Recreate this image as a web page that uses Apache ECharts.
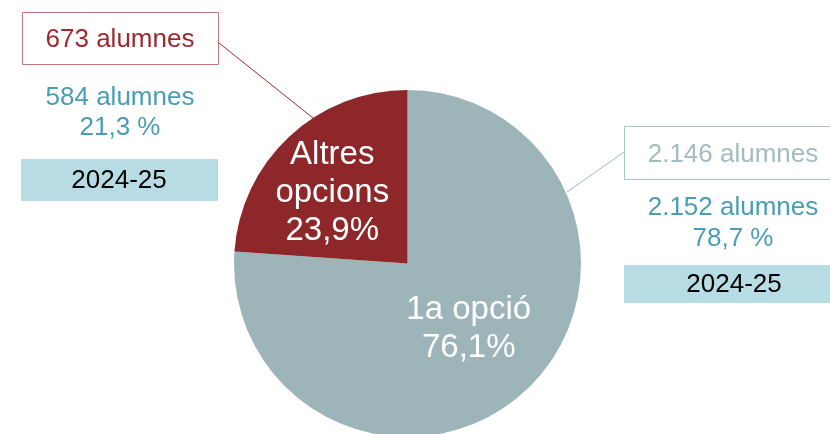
<!DOCTYPE html>
<html>
<head>
<meta charset="utf-8">
<script src="https://cdn.jsdelivr.net/npm/echarts@6/dist/echarts.min.js"></script>
<style>
  html, body { margin: 0; padding: 0; background: #fff; }
  #chart { width: 830px; height: 434px; }
</style>
</head>
<body>
<div id="chart"></div>
<script>
// slices (clockwise from 12 o'clock)
const categories = ['1a opció', 'Altres opcions'];
const sliceLabels = ['1a opció', 'Altres\nopcions'];
const shares = [76.1, 23.9];
const sliceColors = ['#9db5b9', '#8e2729'];

// annotations beside the pie
const prevCounts = ['673 alumnes', '2.146 alumnes'];
const currCounts = ['584 alumnes', '2.152 alumnes'];
const currShares = ['21,3 %', '78,7 %'];
const courseLabel = '2024-25';

const FONT = '"Liberation Sans", Arial, sans-serif';

let chart = echarts.init(document.getElementById('chart'));

function txt(x, y, text, color, size) {
  return {
    type: 'text',
    x: x,
    y: y,
    style: {
      text: text,
      fill: color,
      font: (size || 26) + 'px ' + FONT,
      textAlign: 'center',
      textVerticalAlign: 'middle'
    }
  };
}

let option = {
  animation: false,
  series: [{
    type: 'pie',
    center: [407.5, 263.5],
    radius: 173.5,
    startAngle: 90,
    clockwise: true,
    silent: true,
    label: {
      show: true,
      position: 'inside',
      color: '#fff',
      fontFamily: FONT,
      fontSize: 33,
      lineHeight: 38,
      formatter: function (p) {
        return sliceLabels[p.dataIndex] + '\n' + p.value.toFixed(1).replace('.', ',') + '%';
      }
    },
    labelLine: { show: false },
    data: categories.map(function (c, i) {
      let d = {
        name: c,
        value: shares[i],
        itemStyle: { color: sliceColors[i] }
      };
      if (i === 1) d.label = { offset: [-14, -5] };
      return d;
    })
  }],
  graphic: [
    // left side
    {
      type: 'rect',
      shape: { x: 22.5, y: 12.5, width: 196, height: 52 },
      style: { fill: '#fff', stroke: '#c4777a', lineWidth: 1 }
    },
    txt(120, 40, prevCounts[0], '#9a2a2d'),
    {
      type: 'line',
      shape: { x1: 219, y1: 43, x2: 313, y2: 118 },
      style: { stroke: '#9a2a2d', lineWidth: 1 }
    },
    txt(120, 98, currCounts[0], '#4a9cb7'),
    txt(120, 128, currShares[0], '#4a9cb7'),
    {
      type: 'rect',
      shape: { x: 21, y: 159, width: 197, height: 42 },
      style: { fill: '#b8dce4' }
    },
    txt(119, 181, courseLabel, '#000'),

    // right side
    {
      type: 'rect',
      shape: { x: 624.5, y: 126.5, width: 210, height: 53 },
      style: { fill: '#fff', stroke: '#a8c6cb', lineWidth: 1 }
    },
    txt(733, 155, prevCounts[1], '#a3bcc0'),
    {
      type: 'line',
      shape: { x1: 624, y1: 152, x2: 567, y2: 192 },
      style: { stroke: '#9db9bd', lineWidth: 1 }
    },
    txt(733, 208, currCounts[1], '#4a9cb7'),
    txt(733, 239, currShares[1], '#4a9cb7'),
    {
      type: 'rect',
      shape: { x: 624, y: 265, width: 206, height: 38 },
      style: { fill: '#b8dce4' }
    },
    txt(734, 285, courseLabel, '#000')
  ]
};

chart.setOption(option);
</script>
</body>
</html>
